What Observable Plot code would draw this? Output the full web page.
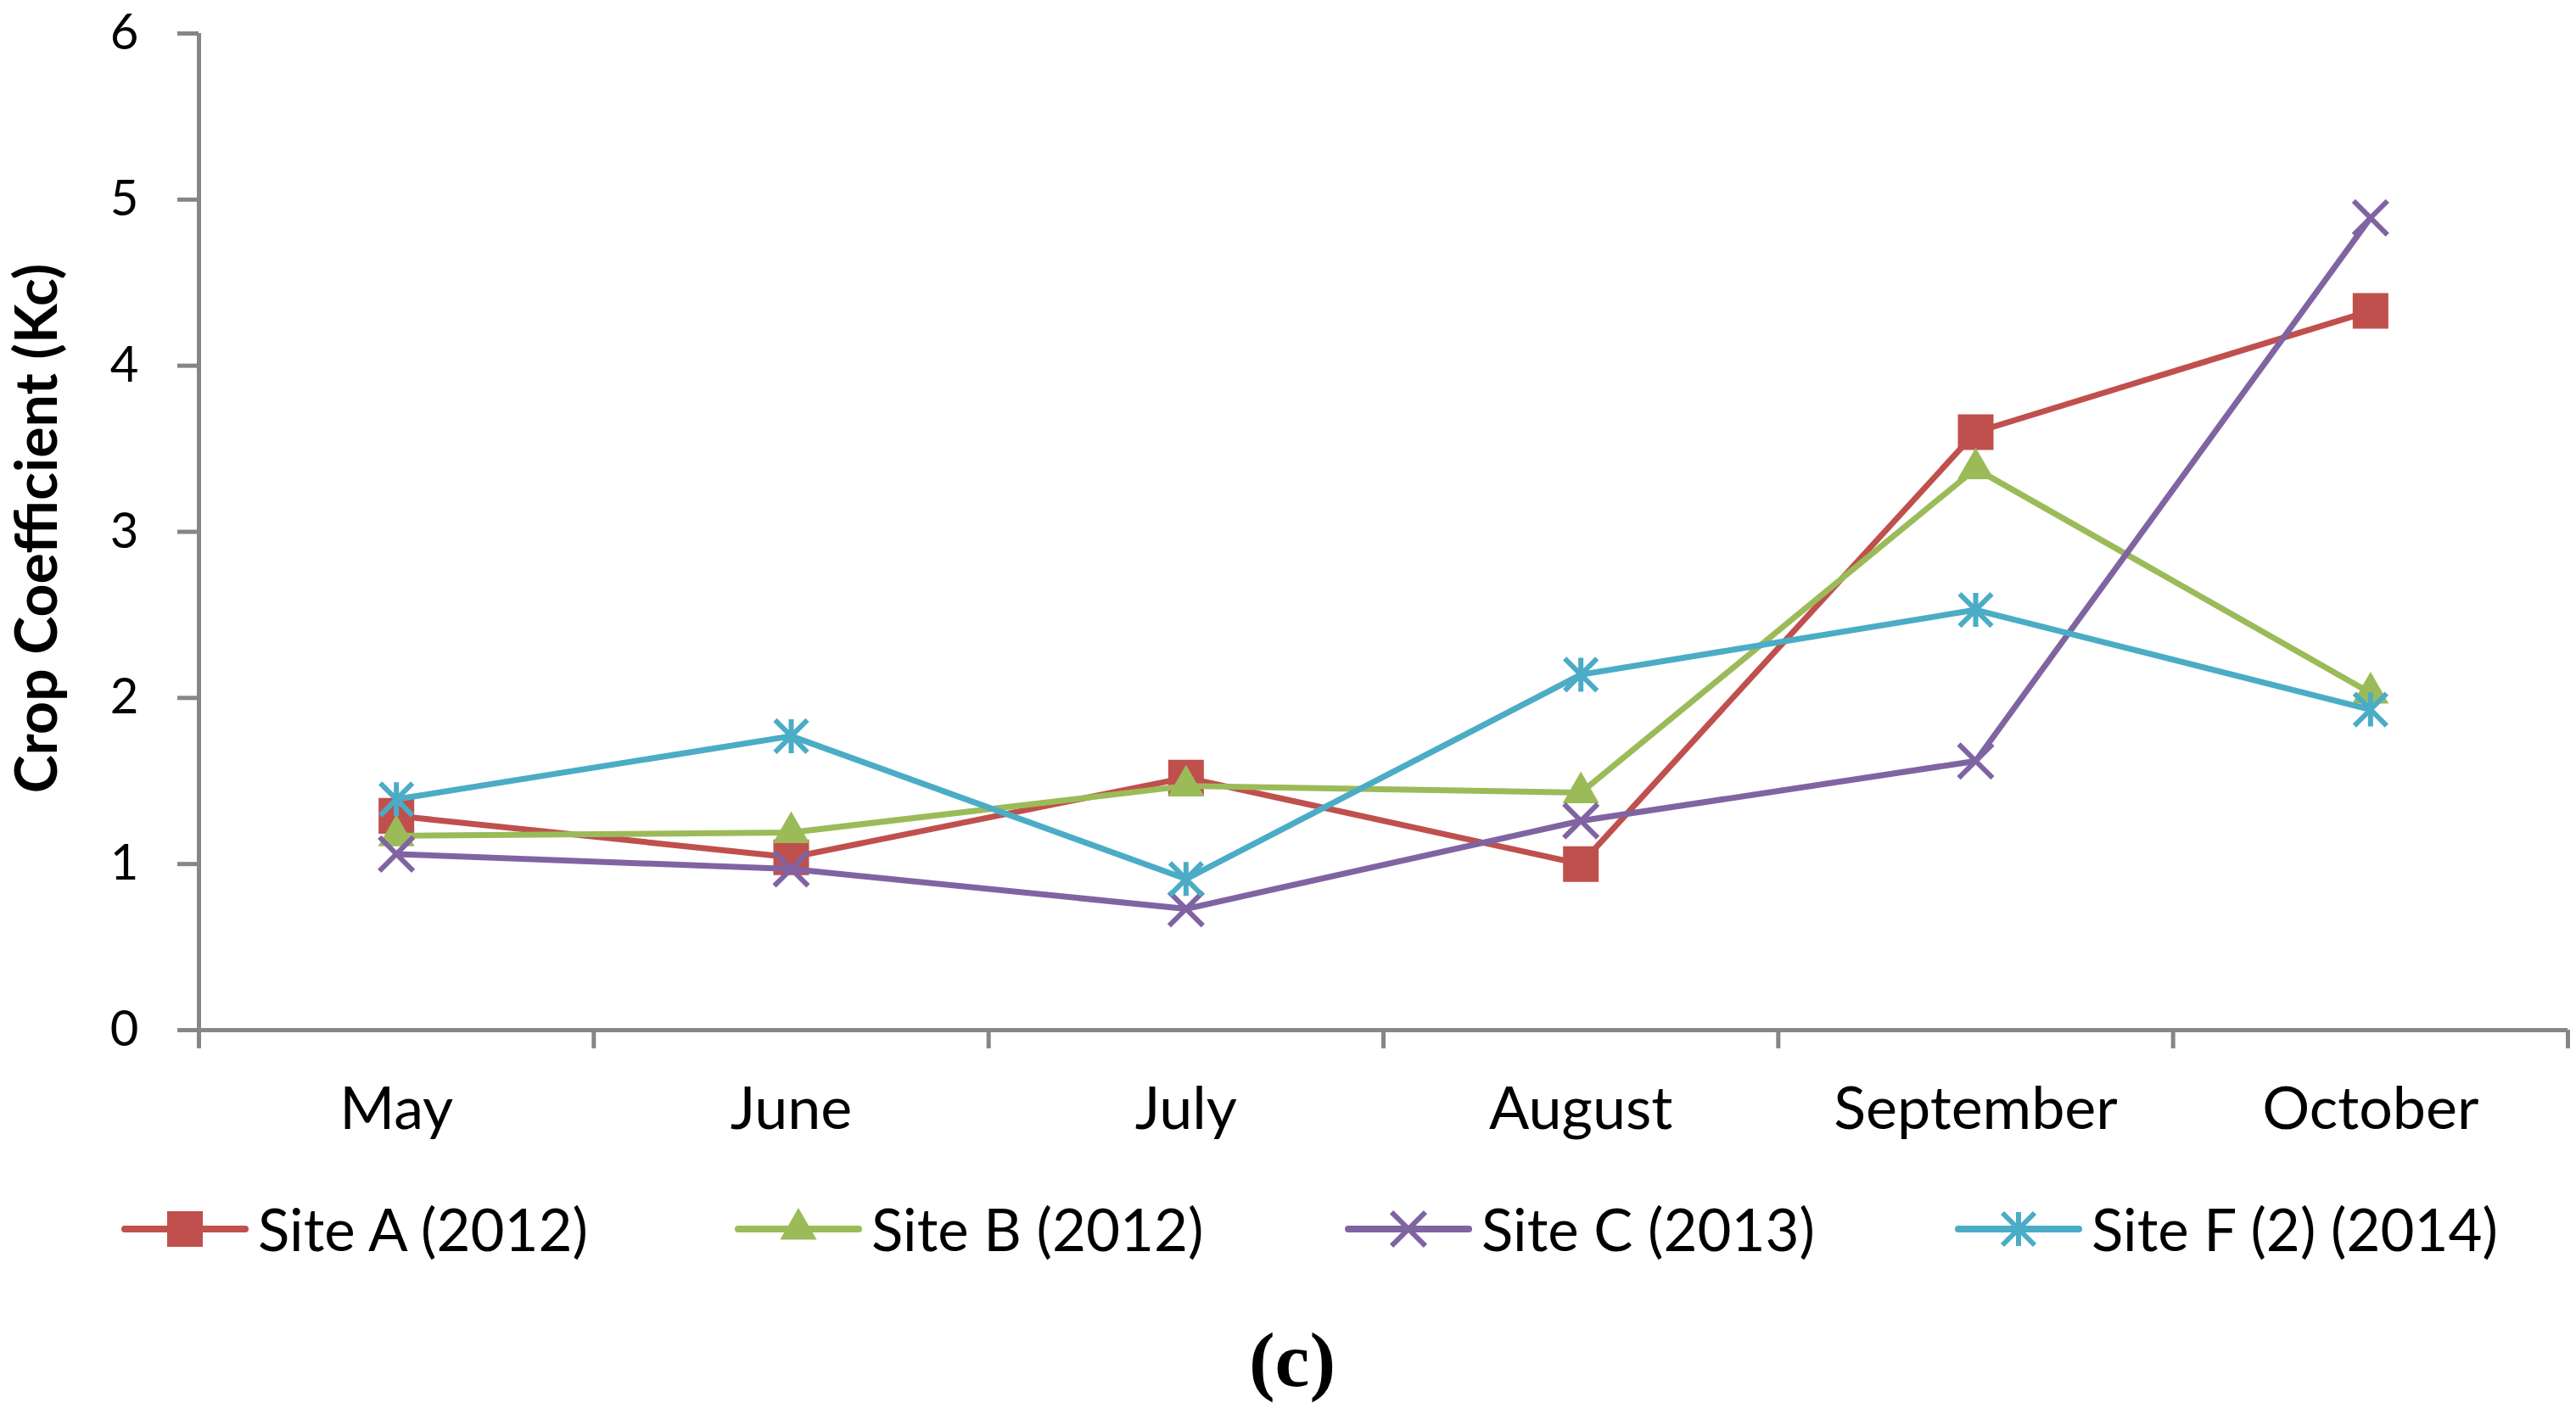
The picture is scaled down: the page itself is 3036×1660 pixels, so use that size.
<!DOCTYPE html>
<html>
<head>
<meta charset="utf-8">
<script src="https://cdn.jsdelivr.net/npm/d3@7"></script>
<script src="https://cdn.jsdelivr.net/npm/@observablehq/plot@0.6"></script>
<style>
  html, body { margin: 0; padding: 0; background: #fff; }
  #wrap { width: 3036px; height: 1660px; position: relative; overflow: hidden; font-family: Lato, sans-serif; }
  #legend { position: absolute; left: 0; top: 1399px; height: 100px; width: 3036px; }
  .item { position: absolute; top: 0; height: 100px; display: flex; align-items: center; }
  .item svg { display: block; }
  .item span { font-size: 69px; color: #000; margin-left: 11px; line-height: 100px; white-space: nowrap; }
  #caption { position: absolute; left: 0; top: 1548px; width: 3046px; text-align: center;
    font-family: "Liberation Serif", "Times New Roman", serif; font-weight: bold; font-size: 92px; line-height: 110px; color: #000; }
</style>
</head>
<body>
<div id="wrap">
  <div id="chart"></div>
  <div id="legend"></div>
  <div id="caption"></div>
</div>
<script>
const months = ["May", "June", "July", "August", "September", "October"];
const seriesNames = ["Site A (2012)", "Site B (2012)", "Site C (2013)", "Site F (2) (2014)"];
const siteA = [1.29, 1.04, 1.52, 1.00, 3.60, 4.33];
const siteB = [1.17, 1.19, 1.47, 1.43, 3.38, 2.03];
const siteC = [1.06, 0.97, 0.73, 1.26, 1.62, 4.89];
const siteF = [1.39, 1.77, 0.91, 2.14, 2.53, 1.93];
const yTicks = [0, 1, 2, 3, 4, 5, 6];
const yTitle = "Crop Coefficient (Kc)";
const captionText = "(c)";

const colors = ["#C0504D", "#9BBB59", "#8064A2", "#4BACC6"];

// Excel-style "star" marker: vertical bar plus a 45° cross
const excelStar = {
  draw(context, size) {
    const r = Math.sqrt(size / Math.PI);
    const d = r * 0.95;
    context.moveTo(0, -r); context.lineTo(0, r);
    context.moveTo(-d, -d); context.lineTo(d, d);
    context.moveTo(-d, d); context.lineTo(d, -d);
  }
};
const symbols = [d3.symbolSquare, d3.symbolTriangle, d3.symbolTimes, excelStar];
const filledSym = [true, true, false, false];
const symbolR = [23.7, 16, 18.2, 20];

const allValues = [siteA, siteB, siteC, siteF];
const axisGray = "#868686";
const bounds = d3.range(months.length + 1).map(i => i - 0.5);

const marks = [];
marks.push(Plot.ruleY([0], {stroke: axisGray, strokeWidth: 5}));
marks.push(Plot.ruleX([-0.5], {stroke: axisGray, strokeWidth: 5}));
marks.push(Plot.axisY({ticks: yTicks, tickSize: 25, tickPadding: 46, stroke: axisGray, strokeWidth: 5,
  fontSize: 58, label: null, tickFormat: d => String(d)}));
marks.push(Plot.axisX({ticks: bounds, tickSize: 22, stroke: axisGray, strokeWidth: 5, tickFormat: () => "", label: null}));
marks.push(Plot.axisX({ticks: d3.range(months.length), tickSize: 0, tickPadding: 67, fontSize: 70,
  tickFormat: i => months[i], label: null}));
marks.push(Plot.text([yTitle], {text: d => d, frameAnchor: "left", textAnchor: "middle", rotate: -90,
  dx: -189, dy: -4, fontWeight: "bold", fontSize: 68}));

allValues.forEach((vals, s) => {
  const data = vals.map((v, i) => ({i, v}));
  marks.push(Plot.line(data, {x: "i", y: "v", stroke: colors[s], strokeWidth: 7}));
  marks.push(Plot.dot(data, filledSym[s]
    ? {x: "i", y: "v", symbol: symbols[s], r: symbolR[s], fill: colors[s], stroke: "none"}
    : {x: "i", y: "v", symbol: symbols[s], r: symbolR[s], fill: "none", stroke: colors[s], strokeWidth: 6}));
});

const chart = Plot.plot({
  width: 3036,
  height: 1370,
  marginLeft: 234,
  marginRight: 10,
  marginTop: 39,
  marginBottom: 156,
  x: {domain: [-0.5, 5.5]},
  y: {domain: [0, 6]},
  style: {fontFamily: "Lato, sans-serif", fontSize: "66px", color: "#000", background: "#fff", overflow: "visible"},
  marks
});
document.getElementById("chart").appendChild(chart);

// legend
const legend = document.getElementById("legend");
const lefts = [143, 866, 1585, 2304];
seriesNames.forEach((name, s) => {
  const item = document.createElement("div");
  item.className = "item";
  item.style.left = lefts[s] + "px";
  const svg = d3.create("svg").attr("width", 150).attr("height", 60);
  svg.append("line").attr("x1", 4).attr("x2", 146).attr("y1", 30).attr("y2", 30)
    .attr("stroke", colors[s]).attr("stroke-width", 8).attr("stroke-linecap", "round");
  const p = svg.append("path")
    .attr("transform", "translate(75,30)")
    .attr("d", d3.symbol(symbols[s], Math.PI * symbolR[s] * symbolR[s])());
  if (filledSym[s]) p.attr("fill", colors[s]);
  else p.attr("fill", "none").attr("stroke", colors[s]).attr("stroke-width", 6);
  item.appendChild(svg.node());
  const span = document.createElement("span");
  span.textContent = name;
  item.appendChild(span);
  legend.appendChild(item);
});
document.getElementById("caption").textContent = captionText;
</script>
</body>
</html>
